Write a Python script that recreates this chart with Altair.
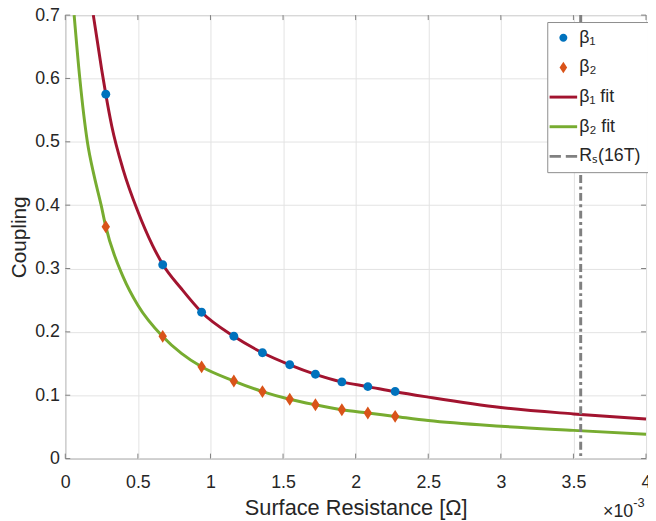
import altair as alt
import pandas as pd

FONT = "Liberation Sans"
TXT = "#262626"
AX = "#7f7f7f"

# measured points (x in units of 1e-3 ohm)
x_pts = [0.279, 0.671, 0.939, 1.161, 1.358, 1.546, 1.723, 1.905, 2.084, 2.272]
beta1 = [0.575, 0.306, 0.231, 0.193, 0.167, 0.148, 0.133, 0.121, 0.1136, 0.1058]
beta2 = [0.366, 0.193, 0.1448, 0.1224, 0.1058, 0.0937, 0.0849, 0.077, 0.0719, 0.0667]

# fit curves
fit1_x = [0.193, 0.22, 0.25, 0.279, 0.32, 0.40, 0.50, 0.60, 0.673, 0.80, 0.939, 1.161, 1.358,
          1.546, 1.723, 1.905, 2.084, 2.272, 2.5, 3.0, 3.5, 4.0]
fit1_y = [0.70, 0.66, 0.615, 0.575, 0.525, 0.455, 0.39, 0.337, 0.306, 0.268, 0.231, 0.193, 0.167,
          0.148, 0.133, 0.121, 0.1136, 0.1055, 0.097, 0.0805, 0.0705, 0.0625]
fit2_x = [0.061, 0.10, 0.152, 0.20, 0.247, 0.277, 0.40, 0.50, 0.669, 0.80, 0.939, 1.161,
          1.358, 1.546, 1.723, 1.905, 2.084, 2.272, 2.5, 3.0, 3.5, 4.0]
fit2_y = [0.70, 0.60, 0.50, 0.445, 0.40, 0.368, 0.286, 0.242, 0.193, 0.166, 0.1448, 0.1224,
          0.1058, 0.0937, 0.0849, 0.077, 0.0719, 0.0665, 0.060, 0.051, 0.0445, 0.0385]

rs_x = [3.55]
x_ticks = [0, 0.5, 1, 1.5, 2, 2.5, 3, 3.5, 4]
y_ticks = [0, 0.1, 0.2, 0.3, 0.4, 0.5, 0.6, 0.7]
series = ["β₁", "β₂", "β₁ fit", "β₂ fit", "Rₛ(16T)"]
colors = ["#0072BD", "#D95319", "#A2142F", "#77AC30", "#808080"]
exponent_base = ["×10"]
exponent_power = ["-3"]

circle = "M0.9,0A0.9,0.9,0,1,1,-0.9,0A0.9,0.9,0,1,1,0.9,0Z"
diamond = "M0,-1.3L0.85,0L0,1.3L-0.85,0Z"
line_sym = "M-3.1,-0.33L3.1,-0.33L3.1,0.33L-3.1,0.33Z"
dash_sym = ("M-3.1,-0.33L-0.55,-0.33L-0.55,0.33L-3.1,0.33Z"
            "M0.55,-0.33L3.1,-0.33L3.1,0.33L0.55,0.33Z")
shapes = [circle, diamond, line_sym, line_sym, dash_sym]

W, H = 588, 449

pts = pd.DataFrame({
    "x": x_pts + x_pts,
    "y": beta1 + beta2,
    "series": [series[0]] * len(x_pts) + [series[1]] * len(x_pts),
})
fits = pd.DataFrame({
    "x": fit1_x + fit2_x,
    "y": fit1_y + fit2_y,
    "series": [series[2]] * len(fit1_x) + [series[3]] * len(fit2_x),
})
rs = pd.DataFrame({"x": rs_x, "series": [series[4]]})
xt = pd.DataFrame({"x": x_ticks})
yt = pd.DataFrame({"y": y_ticks})
lab1 = pd.DataFrame({"t": exponent_base})
lab2 = pd.DataFrame({"t": exponent_power})

color_scale = alt.Scale(domain=series, range=colors)
shape_scale = alt.Scale(domain=series, range=shapes)
stroke_scale = alt.Scale(domain=series[2:], range=colors[2:])

x_enc = alt.X("x:Q", scale=alt.Scale(domain=[0, 4], nice=False, zero=False),
              axis=alt.Axis(values=x_ticks, format="~g", grid=True, gridColor="#e3e3e3",
                            ticks=False, domain=False, labelFlush=False,
                            labelFont=FONT, labelFontSize=18, labelColor=TXT, labelPadding=15,
                            title="Surface Resistance [Ω]", titleFont=FONT, titleFontSize=22,
                            titleFontWeight="normal", titleColor=TXT, titlePadding=7))
y_enc = alt.Y("y:Q", scale=alt.Scale(domain=[0, 0.7], nice=False, zero=False),
              axis=alt.Axis(values=y_ticks, format="~g", grid=True, gridColor="#e3e3e3",
                            ticks=False, domain=False, labelFlush=False,
                            labelFont=FONT, labelFontSize=18, labelColor=TXT, labelPadding=6,
                            title="Coupling", titleFont=FONT, titleFontSize=21,
                            titleFontWeight="normal", titleColor=TXT, titlePadding=5))

legend = alt.Legend(title=None, orient="none", legendX=488, legendY=7,
                    fillColor="white", strokeColor="#8c8c8c", padding=7,
                    symbolSize=81, symbolStrokeWidth=0, symbolOffset=0.3,
                    labelOffset=7, rowPadding=12, labelFont=FONT, labelFontSize=18,
                    labelColor=TXT, cornerRadius=0)

lines = alt.Chart(fits).mark_line(strokeWidth=3, interpolate="monotone").encode(
    x=x_enc, y=y_enc,
    stroke=alt.Stroke("series:N", scale=stroke_scale, legend=None),
)
points = alt.Chart(pts).mark_point(filled=True, size=100, opacity=1, strokeWidth=0).encode(
    x=x_enc, y=y_enc,
    color=alt.Color("series:N", scale=color_scale, legend=legend),
    shape=alt.Shape("series:N", scale=shape_scale, legend=legend),
)
rule = alt.Chart(rs).mark_rule(strokeWidth=3, strokeDash=[8, 3.5, 3, 3.5]).encode(
    x=x_enc,
    stroke=alt.Stroke("series:N", scale=stroke_scale, legend=None),
)
top_t = alt.Chart(xt).mark_rule(color=AX, strokeWidth=1).encode(
    x=x_enc, y=alt.value(0), y2=alt.value(5))
bot_t = alt.Chart(xt).mark_rule(color=AX, strokeWidth=1).encode(
    x=x_enc, y=alt.value(H), y2=alt.value(H - 5))
left_t = alt.Chart(yt).mark_rule(color=AX, strokeWidth=1).encode(
    y=y_enc, x=alt.value(0), x2=alt.value(5))
right_t = alt.Chart(yt).mark_rule(color=AX, strokeWidth=1).encode(
    y=y_enc, x=alt.value(W), x2=alt.value(W - 5))
expo1 = alt.Chart(lab1).mark_text(align="right", baseline="alphabetic", font=FONT,
                                  fontSize=18, color=TXT).encode(
    text="t:N", x=alt.value(W - 13), y=alt.value(H + 59))
expo2 = alt.Chart(lab2).mark_text(align="left", baseline="alphabetic", font=FONT,
                                  fontSize=13, color=TXT).encode(
    text="t:N", x=alt.value(W - 13), y=alt.value(H + 49))

chart = alt.layer(top_t, bot_t, left_t, right_t, lines, points, rule, expo1, expo2).properties(
    width=W, height=H,
    padding={"left": 58, "top": 4, "right": 2, "bottom": 60},
    autosize="none",
).configure_view(stroke=AX, strokeWidth=1)

chart.save("out.html", embed_options={"renderer": "svg", "actions": False})
